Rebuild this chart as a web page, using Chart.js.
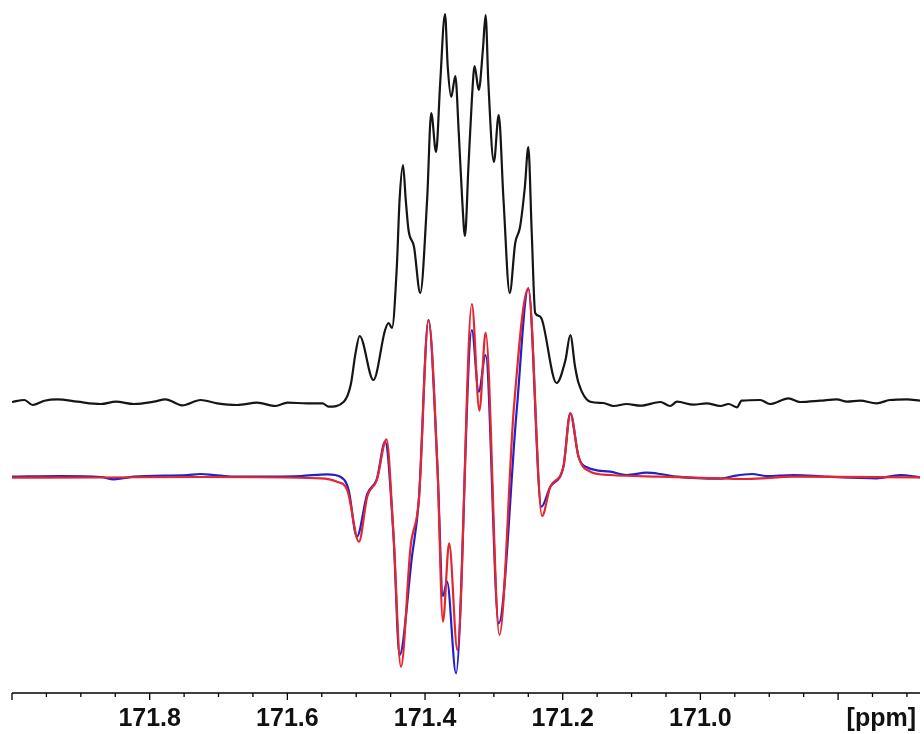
<!DOCTYPE html>
<html>
<head>
<meta charset="utf-8">
<script src="https://cdn.jsdelivr.net/npm/chart.js@4.4.1/dist/chart.umd.min.js"></script>
<style>
  html, body { margin: 0; padding: 0; background: #fff; }
  #wrap { width: 924px; height: 734px; }
</style>
</head>
<body>
<div id="wrap"><canvas id="spec" width="924" height="734"></canvas></div>
<script>
// -- spectrum data (ppm, intensity above own baseline) --
const blackPpm = [
  172.000, 171.982, 171.970, 171.953, 171.934, 171.905, 171.871, 171.849, 171.823, 171.794,
  171.777, 171.753, 171.726, 171.702, 171.673, 171.644, 171.617, 171.600, 171.571, 171.549,
  171.540, 171.518, 171.508, 171.501, 171.495, 171.475, 171.458, 171.453, 171.448, 171.441,
  171.437, 171.432, 171.428, 171.424, 171.416, 171.407, 171.397, 171.391, 171.384, 171.378,
  171.371, 171.367, 171.362, 171.356, 171.351, 171.346, 171.342, 171.337, 171.332, 171.328,
  171.322, 171.316, 171.312, 171.308, 171.300, 171.293, 171.286, 171.277, 171.269, 171.262,
  171.255, 171.250, 171.245, 171.240, 171.234, 171.230, 171.209, 171.196, 171.189, 171.182,
  171.177, 171.160, 171.141, 171.126, 171.107, 171.087, 171.058, 171.044, 171.034, 171.010,
  170.991, 170.971, 170.959, 170.947, 170.940, 170.913, 170.899, 170.872, 170.855, 170.826,
  170.802, 170.787, 170.768, 170.744, 170.725, 170.700, 170.681];
const blackInt = [
  1, 3, -2, 2.3, 3.7, 1.3, -1, 1.3, -1, 1.3,
  3.7, -2.3, 3, -0.3, -2, 0.3, -3, 0.3, -0.3, -0.3,
  -3.7, 1.3, 18, 49.7, 67, 23, 73, 80, 75, 136,
  203, 238, 203, 173, 156, 110, 203, 290, 251, 320,
  389, 336, 306, 327, 270, 203, 167, 236, 303, 337,
  313, 353, 388, 320, 241, 288, 203, 110, 160, 176,
  216, 256, 170, 90, 87, 83, 20, 43, 68, 36,
  20, 1.3, 0, -3, -1, -2.7, 1, -3, 1.3, -1.7,
  -0.3, -3, -1, -4.3, 2.3, 3, -1, 4.7, 1, 2.3,
  3.7, 1.3, 2.3, -0.3, 3, 3.7, 2.3];

const redPpm = [
  172.000, 171.871, 171.726, 171.552, 171.528, 171.513, 171.496, 171.484, 171.470, 171.456,
  171.446, 171.435, 171.421, 171.409, 171.395, 171.382, 171.374, 171.365, 171.353, 171.332,
  171.321, 171.312, 171.292, 171.271, 171.250, 171.230, 171.218, 171.199, 171.189, 171.177,
  171.160, 171.131, 171.058, 170.971, 170.933, 170.865, 170.681];
const redInt = [
  -0.7, -0.5, 0, -1.3, -4.7, -13, -64.7, -19.7, -3, 37.7,
  -56, -189.7, -69.7, -23, 157, 10.3, -144.7, -66.3, -173, 173,
  66.3, 144.3, -158, 68.7, 188.7, -39, -9.7, 10.3, 63.7, 20.3,
  5.3, 2, 0.3, -1.3, -2, 0.3, -0.3];

const bluePpm = [
  172.000, 171.929, 171.871, 171.852, 171.823, 171.745, 171.726, 171.707, 171.678, 171.581,
  171.542, 171.523, 171.511, 171.499, 171.484, 171.470, 171.458, 171.446, 171.437, 171.419,
  171.409, 171.395, 171.382, 171.374, 171.368, 171.355, 171.332, 171.322, 171.312, 171.293,
  171.267, 171.250, 171.231, 171.218, 171.199, 171.189, 171.177, 171.165, 171.131, 171.107,
  171.078, 171.058, 171.034, 170.971, 170.952, 170.925, 170.904, 170.865, 170.816, 170.744,
  170.710, 170.681];
const blueInt = [
  0.3, 1, 0, -2.3, 0.3, 2, 3, 2, 0.3, 1,
  2.7, 0.3, -13, -59.7, -17, -2, 35.3, -56, -178, -79.7,
  -23, 157, 10.3, -119, -104.7, -196.3, 147, 85.3, 122, -146.3,
  65.3, 188.7, -29.7, -9.7, 10.3, 63.7, 20.3, 9.7, 5.3, 2,
  4.3, 3, 0.3, -1.7, 1, 3, 1, 2, 0.3, -1.3,
  2, -0.3];

// -- axis ticks --
const majorTicks = [172.0, 171.8, 171.6, 171.4, 171.2, 171.0, 170.8];
const minorTicks = [171.95, 171.9, 171.85, 171.75, 171.7, 171.65, 171.55, 171.5, 171.45, 171.35, 171.3,
  171.25, 171.15, 171.1, 171.05, 170.95, 170.9, 170.85, 170.75, 170.7];
const tickLabels = ['171.8', '171.6', '171.4', '171.2', '171.0'];
const tickLabelValues = [171.8, 171.6, 171.4, 171.2, 171.0];
const unitLabel = '[ppm]';

const X_MIN = 170.681, X_MAX = 172.0;
const BLACK_BASE = 290, DIFF_BASE = 216;

const pts = (xs, ys, base) => xs.map((x, i) => ({ x, y: base + ys[i] }));

// draws the bottom ppm axis (line, major/minor ticks, labels) from the x scale
const ppmAxis = {
  id: 'ppmAxis',
  afterDraw(chart) {
    const { ctx, chartArea, scales } = chart;
    const sx = scales.x;
    const y0 = chartArea.bottom;
    ctx.save();
    ctx.strokeStyle = '#000';
    ctx.lineWidth = 1.5;
    ctx.beginPath();
    ctx.moveTo(chartArea.left, y0);
    ctx.lineTo(chartArea.right, y0);
    ctx.stroke();
    ctx.lineWidth = 1.3;
    ctx.beginPath();
    majorTicks.forEach(v => {
      const px = sx.getPixelForValue(v);
      ctx.moveTo(px, y0);
      ctx.lineTo(px, y0 + 7);
    });
    minorTicks.forEach(v => {
      const px = sx.getPixelForValue(v);
      ctx.moveTo(px, y0);
      ctx.lineTo(px, y0 + 4);
    });
    ctx.stroke();
    ctx.fillStyle = '#111';
    ctx.font = 'bold 25px "Liberation Sans", Arial, sans-serif';
    ctx.textBaseline = 'alphabetic';
    ctx.textAlign = 'center';
    tickLabels.forEach((t, i) => {
      ctx.fillText(t, sx.getPixelForValue(tickLabelValues[i]), y0 + 33);
    });
    ctx.textAlign = 'right';
    ctx.fillText(unitLabel, chartArea.right - 4, y0 + 33);
    ctx.restore();
  },
};

new Chart(document.getElementById('spec'), {
  type: 'line',
  data: {
    datasets: [
      {
        data: pts(redPpm, redInt, DIFF_BASE),
        borderColor: '#e3262f',
        borderWidth: 2.2,
      },
      {
        data: pts(bluePpm, blueInt, DIFF_BASE),
        borderColor: '#2020cc',
        borderWidth: 2.2,
      },
      {
        data: pts(blackPpm, blackInt, BLACK_BASE),
        borderColor: '#151515',
        borderWidth: 2.2,
      },
    ],
  },
  options: {
    responsive: false,
    animation: false,
    layout: { padding: { left: 12, right: 4, top: 0, bottom: 41 } },
    elements: {
      point: { radius: 0 },
      line: { cubicInterpolationMode: 'monotone', fill: false },
    },
    plugins: { legend: { display: false }, tooltip: { enabled: false } },
    scales: {
      x: { type: 'linear', reverse: true, min: X_MIN, max: X_MAX, display: false },
      y: { min: 0, max: 693, display: false },
    },
  },
  plugins: [ppmAxis],
});
</script>
</body>
</html>
